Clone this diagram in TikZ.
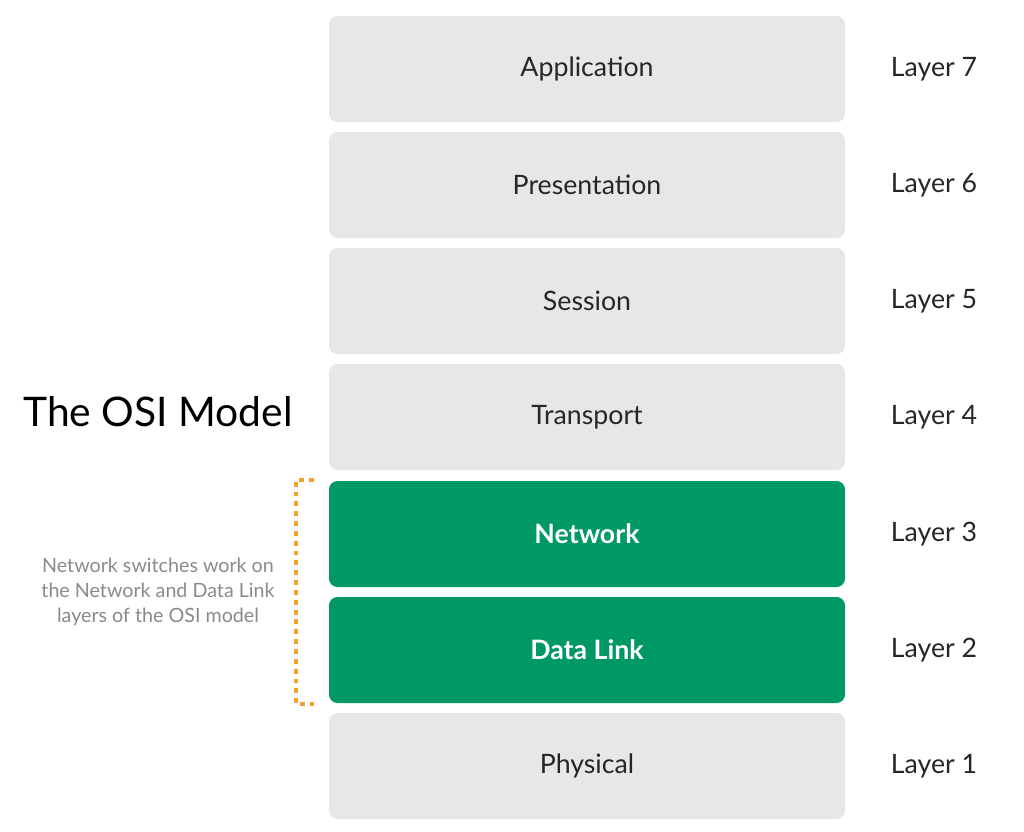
\documentclass[tikz,border=0pt]{standalone}
\usepackage{fontspec}
\setmainfont{Lato}
\usetikzlibrary{positioning}
\definecolor{layergray}{HTML}{E7E7E7}
\definecolor{layergreen}{HTML}{009865}
\definecolor{bracketorange}{HTML}{F0A02E}
\definecolor{notegray}{HTML}{8A8A8A}
\tikzset{
  layerbox/.style={ rounded corners=6pt, fill=layergray, minimum width=12.9cm, minimum height=2.65cm, font=\fontsize{19}{22}\selectfont, text=black!85 },
  switchbox/.style={ layerbox, fill=layergreen, text=white, font=\bfseries\fontsize{19}{22}\selectfont },
  layertag/.style={ font=\fontsize{19}{22}\selectfont, text=black!85 }
}
\begin{document}
\begin{tikzpicture}
  \useasboundingbox (0,0) rectangle (25.6,-20.775);

  \node[layerbox] (app) at (14.675,-1.725) {Application};
  \node[layerbox] (pres) at (14.675,-4.625) {Presentation};
  \node[layerbox] (sess) at (14.675,-7.525) {Session};
  \node[layerbox] (trans) at (14.675,-10.425) {Transport};
  \node[switchbox] (net) at (14.675,-13.35) {Network};
  \node[switchbox] (link) at (14.675,-16.25) {Data Link};
  \node[layerbox] (phys) at (14.675,-19.15) {Physical};

  \node[layertag] (l7) at (23.35,-1.725) {Layer 7};
  \node[layertag] (l6) at (23.35,-4.625) {Layer 6};
  \node[layertag] (l5) at (23.35,-7.525) {Layer 5};
  \node[layertag] (l4) at (23.35,-10.425) {Layer 4};
  \node[layertag] (l3) at (23.35,-13.35) {Layer 3};
  \node[layertag] (l2) at (23.35,-16.25) {Layer 2};
  \node[layertag] (l1) at (23.35,-19.15) {Layer 1};

  \node[font=\fontsize{29}{34}\selectfont] (title) at (3.95,-10.3) {The OSI Model};
  \node[align=center, text=notegray, font=\fontsize{14}{17.5}\selectfont] (note) at (3.95,-14.8)
    {Network switches work on\\the Network and Data Link\\layers of the OSI model};

  % dotted bracket
  \coordinate (btop) at (7.4,-12.0);
  \coordinate (bbot) at (7.4,-17.6);
  \draw[bracketorange, line width=2.2pt, dash pattern=on 3.5pt off 3.5pt]
    ([xshift=0.45cm]btop) -- (btop) -- (bbot) -- ([xshift=0.45cm]bbot);
\end{tikzpicture}
\end{document}
